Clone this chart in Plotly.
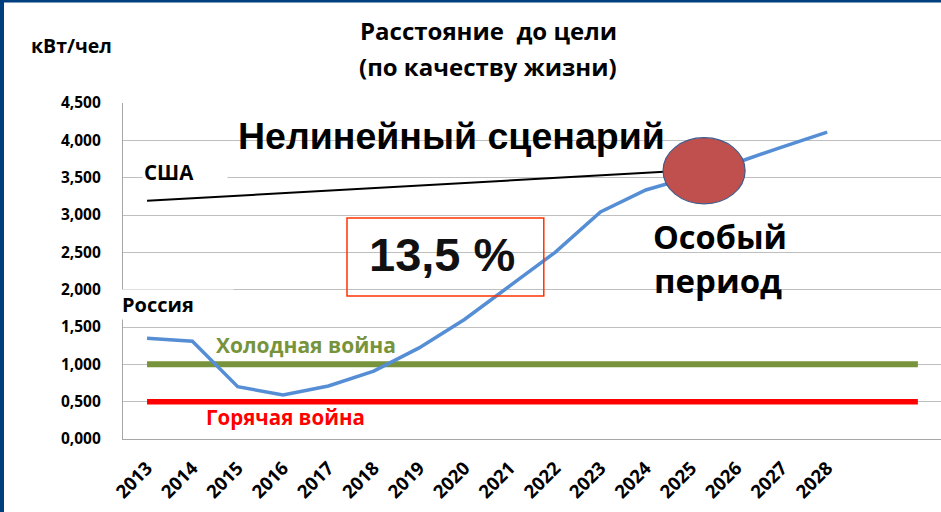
import plotly.graph_objects as go

# ---- data ----
years = [2013, 2014, 2015, 2016, 2017, 2018, 2019, 2020, 2021, 2022, 2023, 2024, 2025, 2026, 2027, 2028]
russia = [1350, 1310, 700, 590, 710, 910, 1220, 1600, 2050, 2500, 3040, 3335, 3510, 3700, 3910, 4110]
usa_years = [2013, 2014, 2015, 2016, 2017, 2018, 2019, 2020, 2021, 2022, 2023, 2024, 2025]
usa = [3190, 3225, 3260, 3290, 3325, 3360, 3395, 3430, 3460, 3495, 3530, 3565, 3600]
level_years = [2013, 2030]
cold_war = [1000, 1000]
hot_war = [500, 500]
y_ticks = [0, 500, 1000, 1500, 2000, 2500, 3000, 3500, 4000, 4500]
y_tick_text = ["0,000", "0,500", "1,000", "1,500", "2,000", "2,500", "3,000", "3,500", "4,000", "4,500"]
x_tick_text = [str(y) for y in years]

W, H = 941, 512
L, R, T, B = 123, 0, 103, 73
PW, PH = W - L - R, H - T - B


def px(xp):
    return (xp - L) / PW


def py(yp):
    return (H - B - yp) / PH


CAL = "'Open Sans', Lato, sans-serif"
ARI = "'Liberation Sans', Arial, sans-serif"

fig = go.Figure()
fig.add_trace(go.Scatter(x=usa_years, y=usa, mode="lines", line=dict(color="#000000", width=2), hoverinfo="skip"))
fig.add_trace(go.Scatter(x=level_years, y=cold_war, mode="lines", line=dict(color="#77933C", width=6), hoverinfo="skip"))
fig.add_trace(go.Scatter(x=level_years, y=hot_war, mode="lines", line=dict(color="#FF0000", width=5.5), hoverinfo="skip"))
fig.add_trace(go.Scatter(x=years, y=russia, mode="lines", line=dict(color="#558ED5", width=3.5), hoverinfo="skip"))

shapes = [
    # ellipse (special period)
    dict(type="circle", xref="x", yref="y", x0=2024.38, x1=2026.19, y0=3150, y1=4035,
         fillcolor="#C0504D", line=dict(color="#3F5A8A", width=1.2), layer="above"),
    # 13,5 % box
    dict(type="rect", xref="x", yref="y", x0=2017.41, x1=2021.75, y0=1915, y1=2960,
         fillcolor="rgba(0,0,0,0)", line=dict(color="#FF3300", width=1.5), layer="above"),
    # frame border (dark blue)
    dict(type="rect", xref="paper", yref="paper", x0=px(0), x1=px(4), y0=py(H), y1=py(0),
         fillcolor="#003F7F", line=dict(width=0), layer="above"),
    dict(type="rect", xref="paper", yref="paper", x0=px(0), x1=px(W), y0=py(2.5), y1=py(0),
         fillcolor="#003F7F", line=dict(width=0), layer="above"),
]

ann = []


def add_text(text, x, y, size, color="#000000", family=CAL, xanchor="left", yanchor="middle",
             bgcolor=None, width=None, weight="bold"):
    d = dict(text=text, xref="paper", yref="paper", x=px(x), y=py(y), showarrow=False,
             xanchor=xanchor, yanchor=yanchor, font=dict(size=size, color=color, family=family, weight=weight))
    if bgcolor:
        d["bgcolor"] = bgcolor
    if width:
        d["width"] = width
        d["align"] = "left"
    ann.append(d)


add_text("Расстояние  до цели", 488, 30, 24, xanchor="center")
add_text("(по качеству жизни)", 488, 67, 24, xanchor="center")
add_text("кВт/чел", 29, 46, 19.5)
add_text("Нелинейный сценарий", 236, 136, 37.5, family=ARI)
add_text("13,5 %", 367, 255, 47, family=ARI, color="#111111")
add_text("Особый", 651, 236, 32.5)
add_text("период", 652, 280, 33)
add_text("США", 142, 172, 20.5, bgcolor="#FFFFFF", width=82)
add_text("Россия", 120, 304, 20, bgcolor="#FFFFFF", width=110)
add_text("Холодная война", 214, 345, 21, color="#77933C")
add_text("Горячая война", 204, 417, 20.5, color="#FF0000")

fig.update_layout(
    width=W, height=H, autosize=False,
    margin=dict(l=L, r=R, t=T, b=B),
    paper_bgcolor="#FFFFFF", plot_bgcolor="#FFFFFF",
    showlegend=False,
    shapes=shapes, annotations=ann,
    xaxis=dict(range=[2012.47, 2030.51], tickmode="array", tickvals=years, ticktext=x_tick_text,
               tickangle=-45, showgrid=False, zeroline=False, showline=True, linecolor="#A6A6A6",
               linewidth=1.2, ticks="", ticklabelstandoff=10,
               tickfont=dict(size=18.5, color="#000000", family=CAL, weight="bold")),
    yaxis=dict(range=[0, 4500], tickmode="array", tickvals=y_ticks, ticktext=y_tick_text,
               showgrid=True, gridcolor="#BFBFBF", gridwidth=1.2, zeroline=False,
               showline=True, linecolor="#A6A6A6", linewidth=1.2, ticks="", ticklabelstandoff=18,
               tickfont=dict(size=15.5, color="#000000", family=CAL, weight="bold")),
)

fig.write_html("out.html", config={"displayModeBar": False},
               post_script="document.body.style.margin='0';document.body.style.overflow='hidden';")
